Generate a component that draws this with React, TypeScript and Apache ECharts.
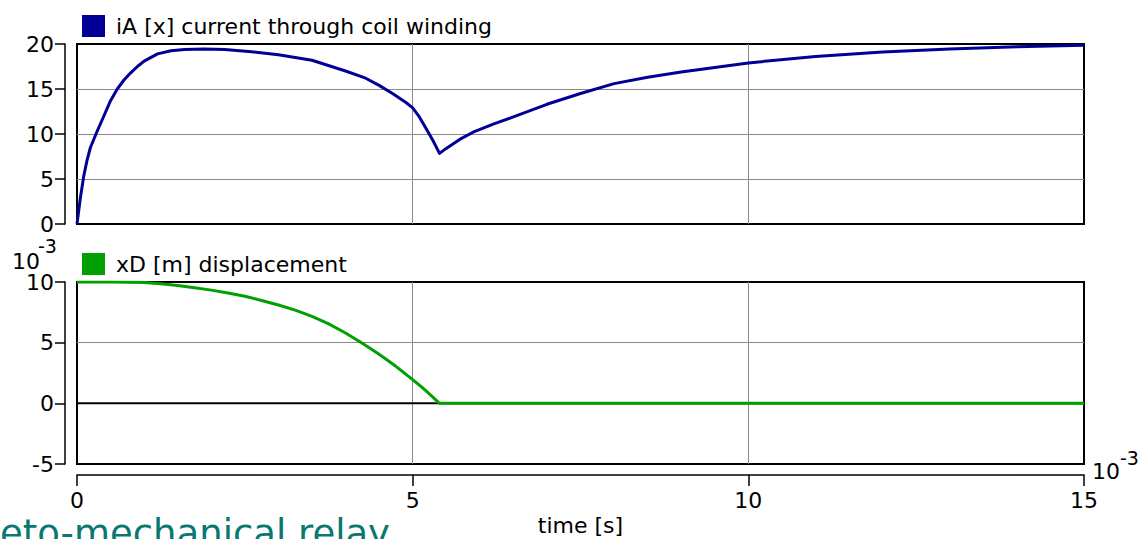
import React, { useEffect, useRef } from 'react';
import * as echarts from 'echarts';

// time in 10^-3 s
const timeIA = [0, 0.05, 0.1, 0.15, 0.2, 0.3, 0.4, 0.5, 0.6, 0.7, 0.8, 0.9, 1.0, 1.2, 1.4, 1.6, 1.9, 2.2, 2.6, 3.0, 3.5, 4.0, 4.3, 4.5, 4.7, 4.9, 5.0, 5.1, 5.2, 5.3, 5.4, 5.5, 5.7, 5.9, 6.2, 6.5, 7.0, 7.5, 8.0, 8.5, 9.0, 9.5, 10.0, 11.0, 12.0, 13.0, 14.0, 15.0];
const currentIA = [0, 2.9, 5.3, 7.1, 8.5, 10.3, 12.0, 13.7, 15.0, 16.0, 16.8, 17.5, 18.1, 18.9, 19.25, 19.4, 19.45, 19.4, 19.15, 18.8, 18.2, 17.0, 16.2, 15.4, 14.5, 13.5, 12.9, 11.9, 10.6, 9.3, 7.85, 8.4, 9.4, 10.2, 11.1, 11.9, 13.3, 14.5, 15.6, 16.3, 16.9, 17.4, 17.9, 18.6, 19.1, 19.45, 19.7, 19.85];

// displacement in 10^-3 m
const timeXD = [0, 0.5, 1.0, 1.25, 1.5, 1.75, 2.0, 2.25, 2.5, 2.75, 3.0, 3.25, 3.5, 3.75, 4.0, 4.25, 4.5, 4.75, 5.0, 5.1, 5.2, 5.3, 5.4, 15.0];
const displacementXD = [10, 10, 9.95, 9.86, 9.72, 9.53, 9.33, 9.1, 8.82, 8.48, 8.1, 7.68, 7.17, 6.55, 5.8, 4.95, 4.05, 3.05, 1.95, 1.5, 1.02, 0.52, 0, 0];

const zeroLineT = [0, 15];
const zeroLineV = [0, 0];

const xTicks = { min: 0, max: 15, interval: 5 };
const yTicksIA = { min: 0, max: 20, interval: 5 };
const yTicksXD = { min: -5, max: 10, interval: 5 };

const nameIA = 'iA [x] current through coil winding';
const nameXD = 'xD [m] displacement';

const FONT = 'DejaVu Sans';

export default function App() {
  const ref = useRef<HTMLDivElement>(null);
  useEffect(() => {
    document.body.style.margin = '0';
    if (!ref.current) return;
    const chart = echarts.init(ref.current, null, { renderer: 'svg' });
    const pairs = (xs: number[], ys: number[]) => xs.map((x, i) => [x, ys[i]]);
    const gridStyle = { show: true, borderColor: '#000', borderWidth: 2, backgroundColor: 'transparent' };
    const split = { show: true, showMinLine: false, showMaxLine: false, lineStyle: { color: '#8a8a8a', width: 1 } };
    const yAxisCommon = {
      type: 'value',
      offset: 12,
      axisLine: { show: true, onZero: false, lineStyle: { color: '#000', width: 1.5 } },
      axisTick: { show: true, inside: false, length: 10, lineStyle: { color: '#000', width: 1.5 } },
      axisLabel: { margin: 11, color: '#000', fontSize: 22, lineHeight: 18, fontFamily: FONT },
      splitLine: split,
    };
    const textStyle = { fontSize: 22, fontFamily: FONT, color: '#000', padding: [0, 0, 0, 6] };
    chart.setOption({
      animation: false,
      backgroundColor: '#fff',
      grid: [
        { left: 77, top: 44, width: 1007, height: 180, ...gridStyle },
        { left: 77, top: 282, width: 1007, height: 182, ...gridStyle },
      ],
      legend: [
        { data: [nameIA], left: 77, top: 10, icon: 'rect', itemWidth: 23, itemHeight: 22, textStyle, selectedMode: false },
        { data: [nameXD], left: 77, top: 248, icon: 'rect', itemWidth: 23, itemHeight: 22, textStyle, selectedMode: false },
      ],
      xAxis: [
        {
          type: 'value', gridIndex: 0, ...xTicks,
          axisLine: { show: false }, axisTick: { show: false }, axisLabel: { show: false },
          splitLine: split,
        },
        {
          type: 'value', gridIndex: 1, ...xTicks, offset: 11,
          axisLine: { show: true, onZero: false, lineStyle: { color: '#000', width: 1.5 } },
          axisTick: { show: true, inside: false, length: 11, lineStyle: { color: '#000', width: 1.5 } },
          axisLabel: { margin: 14, color: '#000', fontSize: 22, fontFamily: FONT },
          splitLine: split,
          name: 'time [s]', nameLocation: 'middle', nameGap: 39,
          nameTextStyle: { color: '#000', fontSize: 22, fontFamily: FONT },
        },
      ],
      yAxis: [
        { ...yAxisCommon, gridIndex: 0, ...yTicksIA },
        { ...yAxisCommon, gridIndex: 1, ...yTicksXD },
      ],
      series: [
        {
          name: nameIA, type: 'line', xAxisIndex: 0, yAxisIndex: 0,
          data: pairs(timeIA, currentIA), showSymbol: false, symbol: 'none', smooth: false,
          lineStyle: { color: '#000096', width: 3, join: 'round' }, itemStyle: { color: '#000096' }, z: 3,
        },
        {
          name: 'zero', type: 'line', xAxisIndex: 1, yAxisIndex: 1,
          data: pairs(zeroLineT, zeroLineV), showSymbol: false, symbol: 'none',
          lineStyle: { color: '#000', width: 2 }, itemStyle: { color: '#000' }, z: 1,
        },
        {
          name: nameXD, type: 'line', xAxisIndex: 1, yAxisIndex: 1,
          data: pairs(timeXD, displacementXD), showSymbol: false, symbol: 'none', smooth: false,
          lineStyle: { color: '#00a000', width: 3, join: 'round' }, itemStyle: { color: '#00a000' }, z: 3,
        },
      ],
      graphic: [
        { type: 'text', left: 12, top: 250, style: { text: '10', fontSize: 22, lineHeight: 18, fontFamily: FONT, fill: '#000' } },
        { type: 'text', left: 38, top: 236, style: { text: '-3', fontSize: 19, lineHeight: 16, fontFamily: FONT, fill: '#000' } },
        { type: 'text', left: 1092, top: 460, style: { text: '10', fontSize: 22, lineHeight: 18, fontFamily: FONT, fill: '#000' } },
        { type: 'text', left: 1120, top: 448, style: { text: '-3', fontSize: 19, lineHeight: 16, fontFamily: FONT, fill: '#000' } },
        { type: 'text', left: 0, top: 515, style: { text: 'eto-mechanical relay', fontSize: 37, fontFamily: FONT, fill: '#0a7872' } },
      ],
    });
    return () => chart.dispose();
  }, []);
  return <div ref={ref} style={{ width: 1147, height: 539 }} />;
}
